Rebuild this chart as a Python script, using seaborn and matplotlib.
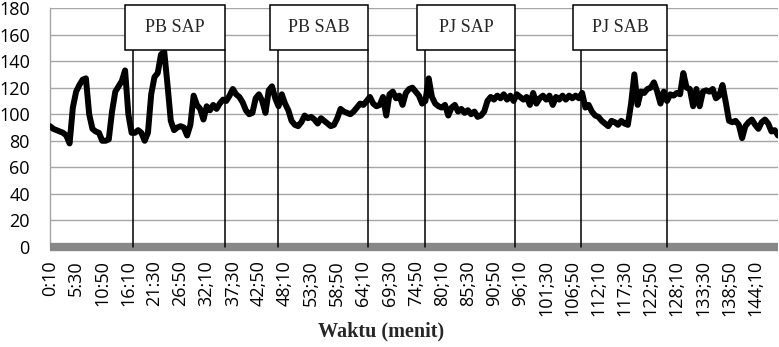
import matplotlib
matplotlib.use("Agg")
import matplotlib.pyplot as plt
from matplotlib.patches import Rectangle
import numpy as np
import pandas as pd
import seaborn as sns

# Heart rate readings, one every 40 s starting at 0:10
heart_rate = [
    91, 89, 88, 87, 86, 84, 78, 105,
    117, 122, 126, 127, 100, 89, 87, 86,
    80, 80, 81, 102, 117, 121, 125, 133,
    100, 86, 86, 88, 86, 80, 86, 115,
    128, 131, 145, 147, 122, 95, 88, 90,
    91, 90, 84, 92, 114, 107, 104, 96,
    106, 103, 107, 104, 108, 111, 110, 114,
    119, 115, 113, 109, 103, 100, 101, 112,
    115, 110, 101, 118, 121, 112, 106, 115,
    108, 103, 95, 92, 91, 94, 99, 97,
    98, 96, 93, 97, 95, 93, 91, 92,
    97, 104, 102, 101, 100, 102, 105, 108,
    107, 110, 113, 108, 106, 107, 113, 99,
    115, 117, 112, 114, 107, 116, 119, 120,
    117, 114, 108, 110, 127, 113, 108, 106,
    105, 107, 99, 105, 107, 102, 104, 101,
    103, 100, 102, 98, 99, 102, 110, 113,
    111, 114, 112, 115, 111, 114, 110, 115,
    113, 111, 113, 107, 116, 108, 112, 114,
    111, 114, 107, 113, 111, 114, 111, 114,
    112, 114, 112, 116, 105, 107, 102, 99,
    98, 95, 93, 91, 95, 94, 92, 95,
    93, 92, 108, 130, 107, 117, 116, 119,
    120, 124, 117, 108, 117, 110, 115, 114,
    116, 115, 131, 120, 119, 106, 119, 106,
    117, 118, 117, 119, 112, 114, 122, 109,
    95, 94, 95, 92, 82, 91, 94, 96,
    92, 89, 94, 96, 93, 87, 88, 84,
]

tick_labels = [
    "0:10", "5:30", "10:50", "16:10", "21:30", "26:50", "32;10",
    "37;30", "42;50", "48;10", "53;30", "58;50", "64;10", "69;30",
    "74;50", "80;10", "85;30", "90;50", "96;10", "101;30", "106;50",
    "112;10", "117;30", "122;50", "128;10", "133;30", "138;50", "144;10",
]

# Treatment phases (in reading index) and their names
phase_names = ["PB SAP", "PB SAB", "PJ SAP", "PJ SAB"]
phase_start = [25.4, 69.9, 114.9, 162.7]
phase_end = [53.6, 97.4, 142.5, 189.0]

df = pd.DataFrame({"idx": np.arange(len(heart_rate)), "hr": heart_rate})

sns.set_style("white")
plt.rcParams["font.family"] = ["Open Sans", "DejaVu Sans"]

W, H = 779, 347
fig = plt.figure(figsize=(W / 100, H / 100), dpi=100)
ax = fig.add_axes([50 / W, (H - 247) / H, (778 - 50) / W, (247 - 8) / H])

ax.yaxis.grid(True, color="#a6a6a6", lw=1.0)
ax.xaxis.grid(False)
ax.set_axisbelow(True)

sns.lineplot(data=df, x="idx", y="hr", ax=ax, color="black", linewidth=4.3,
             solid_joinstyle="round", solid_capstyle="round", zorder=3)

ax.set_xlim(0, len(heart_rate) - 1)
ax.set_ylim(0, 180)
ax.set_yticks(range(0, 181, 20))
ax.set_xticks(range(0, len(heart_rate), 8))
ax.set_xticklabels(tick_labels, rotation=90)
ax.set_xlabel("")
ax.set_ylabel("")

for side in ("top", "right"):
    ax.spines[side].set_visible(False)
ax.spines["left"].set_color("#a6a6a6")
ax.spines["left"].set_linewidth(1.0)
ax.spines["bottom"].set_color("#878787")
ax.spines["bottom"].set_linewidth(6)
ax.spines["bottom"].set_capstyle("butt")

ax.tick_params(axis="y", length=4.5, color="#a6a6a6", width=1.0, pad=10,
               labelsize=13, labelcolor="black")
ax.tick_params(axis="x", length=0, pad=9.5, labelsize=13, labelcolor="black")

# Phase markers: boxed name above the plot with lines down to the axis
box_lo, box_hi = 148.4, 182.3
for name, s, e in zip(phase_names, phase_start, phase_end):
    left = s - 2.45
    ax.add_patch(Rectangle((left, box_lo), e - left, box_hi - box_lo,
                           facecolor="white", edgecolor="black", lw=1.1,
                           clip_on=False, zorder=6))
    ax.plot([s, s], [0, box_lo], color="black", lw=1.1, zorder=4, clip_on=False)
    ax.plot([e, e], [0, box_lo], color="black", lw=1.1, zorder=4, clip_on=False)
    ax.text((left + e) / 2, 165.5, name, family="Liberation Serif", fontsize=13,
            ha="center", va="center", zorder=7)

fig.text(381 / W, 1 - 331 / H, "Waktu (menit)", family="Liberation Serif",
         fontweight="bold", fontsize=14.5, ha="center", va="center")

fig.savefig("out.png", dpi=100)
